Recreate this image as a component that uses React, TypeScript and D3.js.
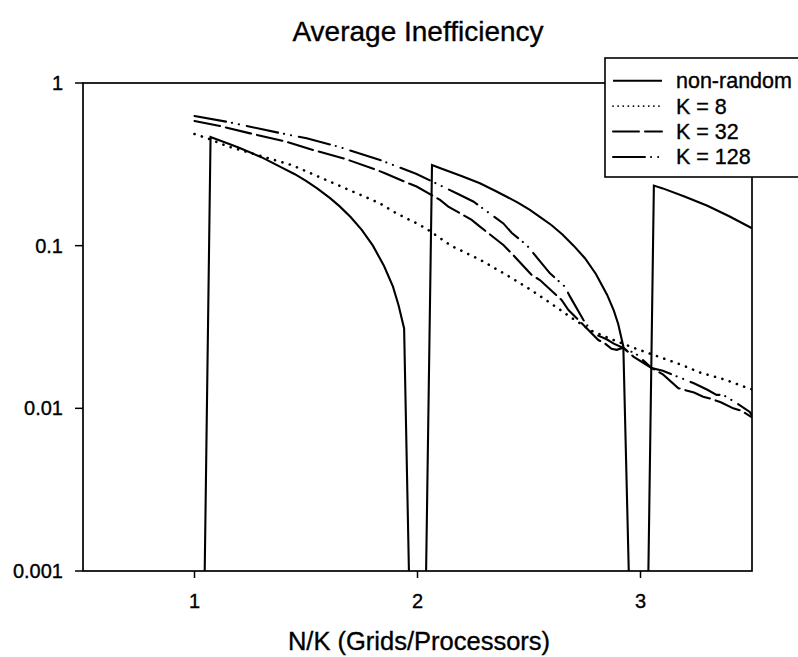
import React from 'react'
import { scaleLinear, scaleLog, line } from 'd3'

const xTicks = [1, 2, 3]
const yTicks = [1, 0.1, 0.01, 0.001]
const yTickLabels = ['1', '0.1', '0.01', '0.001']

// values (0 = below the axis floor)
const nonRandomX = [0.5, 1.0, 1.036, 1.072, 1.15, 1.2, 1.3, 1.383, 1.45, 1.5, 1.55, 1.608, 1.65, 1.7, 1.75,
  1.8, 1.85, 1.89, 1.915, 1.94, 1.976,
  2.028, 2.065, 2.1, 2.2, 2.28, 2.35, 2.4, 2.45, 2.504, 2.55, 2.6, 2.65, 2.7, 2.75, 2.8, 2.85, 2.88, 2.9, 2.923, 2.965,
  3.025, 3.06, 3.1, 3.2, 3.3, 3.4, 3.5]
const nonRandomY = [0, 0, 0, 0.466, 0.425, 0.4, 0.35, 0.306, 0.275, 0.25, 0.225, 0.196, 0.175, 0.15, 0.125,
  0.1, 0.075, 0.056, 0.043, 0.031, 0,
  0, 0.313, 0.3, 0.267, 0.242, 0.217, 0.2, 0.184, 0.166, 0.15, 0.134, 0.117, 0.1, 0.084, 0.067, 0.05, 0.04, 0.033, 0.024, 0,
  0, 0.234, 0.225, 0.2, 0.176, 0.151, 0.128]

const k8X = [1.0, 1.072, 1.144, 1.3, 1.436, 1.6, 1.727, 1.832, 1.906, 2.011, 2.048, 2.15, 2.28, 2.4,
  2.504, 2.6, 2.691, 2.78, 2.87, 2.975, 3.08, 3.18, 3.267, 3.38, 3.483, 3.5]
const k8Y = [0.486, 0.45, 0.41, 0.355, 0.313, 0.25, 0.21, 0.182, 0.158, 0.134, 0.125, 0.1, 0.082, 0.066,
  0.054, 0.044, 0.036, 0.03, 0.0266, 0.0234, 0.0208, 0.0186, 0.0166, 0.015, 0.0133, 0.0131]

const k32X = [1.0, 1.114, 1.25, 1.4, 1.533, 1.68, 1.817, 1.854, 1.959, 1.996, 2.101, 2.138, 2.243, 2.28,
  2.385, 2.422, 2.512, 2.549, 2.646, 2.677, 2.774, 2.811, 2.84, 2.87, 2.893, 2.923, 2.968, 3.05,
  3.102, 3.17, 3.24, 3.281, 3.32, 3.36, 3.416, 3.45, 3.5]
const k32Y = [0.584, 0.544, 0.49, 0.44, 0.387, 0.34, 0.292, 0.279, 0.242, 0.231, 0.191, 0.174, 0.144, 0.131,
  0.101, 0.0897, 0.066, 0.0615, 0.0464, 0.0402, 0.0296, 0.0263, 0.0251, 0.0232, 0.0229, 0.0236, 0.0208, 0.0177,
  0.0161, 0.0133, 0.0125, 0.0118, 0.0114, 0.0109, 0.01, 0.0097, 0.0088]

const k128X = [1.0, 1.144, 1.391, 1.503, 1.645, 1.832, 1.891, 1.996, 2.138, 2.175, 2.25, 2.385, 2.422,
  2.489, 2.594, 2.661, 2.684, 2.744, 2.78, 2.811, 2.85, 2.88, 2.923, 2.95, 2.968, 2.99, 3.05, 3.1,
  3.2, 3.237, 3.3, 3.341, 3.37, 3.43, 3.49, 3.5]
const k128Y = [0.627, 0.578, 0.49, 0.457, 0.406, 0.336, 0.313, 0.276, 0.222, 0.21, 0.187, 0.137, 0.12,
  0.101, 0.0676, 0.056, 0.0486, 0.0349, 0.0298, 0.028, 0.0265, 0.025, 0.0235, 0.022, 0.0225, 0.021, 0.0177, 0.017,
  0.015, 0.0143, 0.013, 0.0121, 0.0121, 0.0108, 0.0095, 0.009]

const seriesNames = ['non-random', 'K = 8', 'K = 32', 'K = 128']
const seriesDash = ['none', '0.1,7.6', '26,6', '32,6,0.1,7,0.1,8']

const App = () => {
  const width = 798
  const height = 657
  const left = 83
  const right = 752
  const top = 83
  const bottom = 571

  const x = scaleLinear().domain([0.5, 3.5]).range([left, right])
  const y = scaleLog().domain([0.001, 1]).range([bottom, top])

  const makePath = (xs: number[], ys: number[]) =>
    line<number>()
      .x((d, i) => x(xs[i]))
      .y(d => y(Math.max(d, 0.0001)))(ys) || ''

  const series = [
    makePath(nonRandomX, nonRandomY),
    makePath(k8X, k8Y),
    makePath(k32X, k32Y),
    makePath(k128X, k128Y),
  ]

  const font = 'Liberation Sans, Arial, Helvetica, sans-serif'
  const ink = { fill: '#000', stroke: '#000', strokeWidth: 0.35 }

  return (
    <svg width={width} height={height} style={{ position: 'absolute', left: 0, top: 0, background: '#fff' }}
      fontFamily={font}>
      <defs>
        <clipPath id="plot">
          <rect x={left} y={top} width={right - left} height={bottom - top} />
        </clipPath>
      </defs>
      <text x={418} y={41} textAnchor="middle" fontSize={28} {...ink}>Average Inefficiency</text>

      <g clipPath="url(#plot)" fill="none" stroke="#000">
        {series.map((d, i) => (
          <path key={i} d={d} strokeDasharray={seriesDash[i]}
            strokeLinecap={i === 0 ? 'butt' : 'round'} strokeWidth={i === 1 ? 2.6 : 2.1} />
        ))}
      </g>

      <rect x={left} y={top} width={right - left} height={bottom - top} fill="none" stroke="#000" strokeWidth={1.7} />

      {yTicks.map((t, i) => (
        <g key={t}>
          <line x1={left - 8} x2={left} y1={y(t)} y2={y(t)} stroke="#000" strokeWidth={1.5} />
          <text x={63} y={y(t) + 7} textAnchor="end" fontSize={20} {...ink}>{yTickLabels[i]}</text>
        </g>
      ))}
      {xTicks.map(t => (
        <g key={t}>
          <line x1={x(t)} x2={x(t)} y1={bottom} y2={bottom + 7} stroke="#000" strokeWidth={1.5} />
          <text x={x(t)} y={608} textAnchor="middle" fontSize={20} {...ink}>{t}</text>
        </g>
      ))}
      <text x={419} y={650} textAnchor="middle" fontSize={25.5} {...ink}>N/K (Grids/Processors)</text>

      <g>
        <rect x={605} y={58} width={210} height={119} fill="#fff" stroke="#000" strokeWidth={1.6} />
        {seriesNames.map((name, i) => (
          <g key={name} transform={`translate(0, ${80.7 + i * 25.4})`}>
            <line x1={613} x2={662} y1={0} y2={0} stroke="#000" strokeWidth={i === 1 ? 1.8 : 2}
              strokeDasharray={i === 1 ? '0.1,5' : seriesDash[i]} strokeLinecap={i === 0 ? 'butt' : 'round'} />
            <text x={676} y={7.5} fontSize={21.5} {...ink}>{name}</text>
          </g>
        ))}
      </g>
    </svg>
  )
}

export default App
